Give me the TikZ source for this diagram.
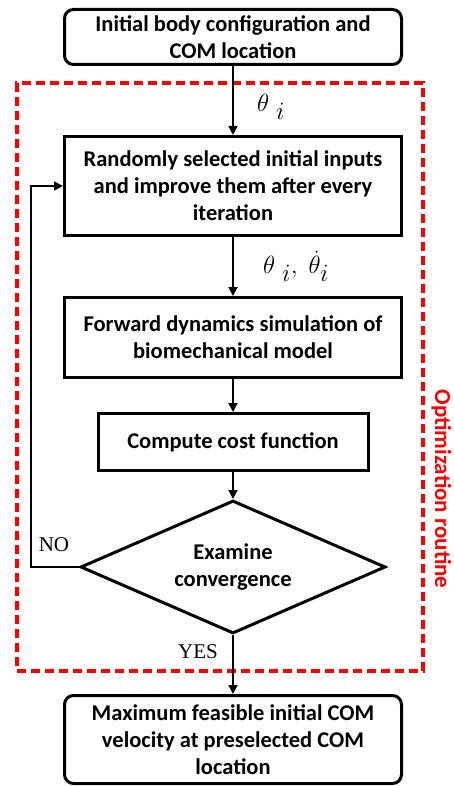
\documentclass[tikz,border=0pt]{standalone}
\usepackage{fontspec}
\setmainfont{Carlito}
\newfontfamily\labelserif{Liberation Serif}
\usetikzlibrary{shapes.geometric,arrows.meta}
\definecolor{routinered}{RGB}{255,0,0}
\begin{document}
\begin{tikzpicture}[x=1pt,y=-1pt,
  every node/.style={font=\fontsize{22.5}{27}\selectfont\bfseries, align=center, inner sep=0pt},
  roundbox/.style={draw, line width=3pt, rounded corners=9pt, minimum width=337pt},
  stepbox/.style={draw, line width=3pt, minimum width=337pt},
  decision/.style={draw, line width=3pt, diamond, aspect=2.26, minimum width=305pt, minimum height=133pt},
  flow/.style={line width=1.8pt, -{Triangle[length=9pt,width=9pt]}},
  mathlabel/.style={font=\fontsize{33}{36}\selectfont},
  branch/.style={font=\fontsize{21}{24}\selectfont\labelserif},
  routine/.style={draw=routinered, line width=3.5pt, dash pattern=on 9pt off 5pt}]
\useasboundingbox (0,0) rectangle (453,786);

% process chain
\node[roundbox, minimum height=55pt] (init) at (233,37) {Initial body configuration and\\COM location};
\node[stepbox, minimum height=99pt] (inputs) at (233,186) {Randomly selected initial inputs\\and improve them after every\\iteration};
\node[stepbox, minimum height=80pt] (fwd) at (233,337.5) {Forward dynamics simulation of\\biomechanical model};
\node[stepbox, minimum width=270pt, minimum height=57pt] (cost) at (233,442) {Compute cost function};
\node[decision] (conv) at (233,567) {Examine\\convergence};
\node[roundbox, minimum height=88pt] (result) at (233,739.5) {Maximum feasible initial COM\\velocity at preselected COM\\location};

% optimization routine frame
\node[routine, minimum width=406pt, minimum height=588pt] (frame) at (220,377) {};
\node[font=\fontsize{23}{26}\selectfont\bfseries, text=routinered, rotate=-90] (framelabel) at (441.5,489) {Optimization routine};

% connectors
\draw[flow] (init) -- (inputs);
\draw[flow] (inputs) -- (fwd);
\draw[flow] (fwd) -- (cost);
\draw[flow] (cost) -- (conv);
\draw[flow] (conv) -- (result);
\coordinate (loopcorner) at (31,567);
\draw[flow] (conv.west) -- (loopcorner) |- (inputs.west);

% labels
\node[mathlabel] (thetaA) at (271,107) {$\theta\;{}_{i}$};
\node[mathlabel] (thetaB) at (296,266) {$\theta\;{}_{i},\;\dot{\theta}_{i}$};
\node[branch] (no) at (54,545) {NO};
\node[branch] (yes) at (198,652) {YES};
\end{tikzpicture}
\end{document}
